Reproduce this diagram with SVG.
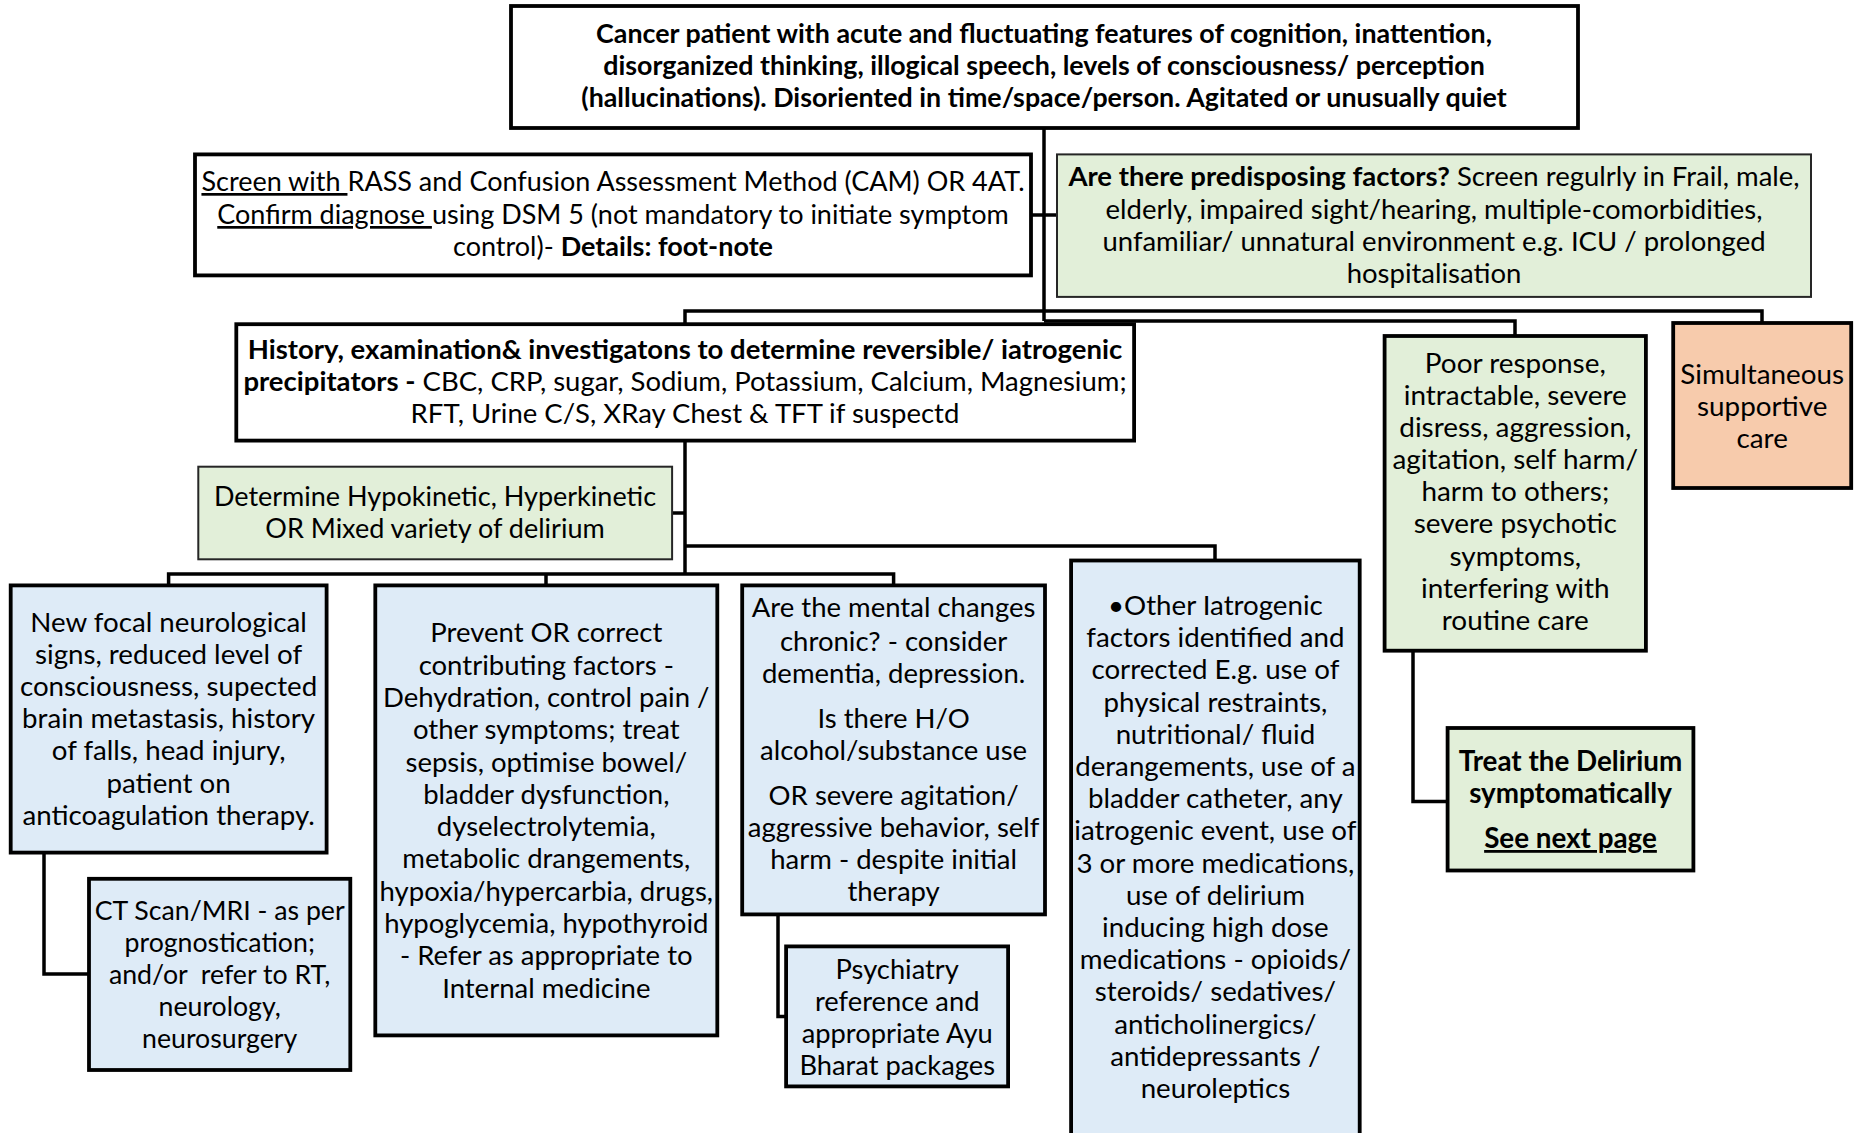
<svg xmlns="http://www.w3.org/2000/svg" width="1862" height="1133" viewBox="0 0 1862 1133">
<style>
.t{font-family:Lato,'Open Sans',sans-serif;fill:#000;text-anchor:middle}
.b{font-weight:bold}
.u{text-decoration:underline}
.box{stroke:#000;stroke-width:3.8}
.thin{stroke:#262626;stroke-width:2}
.w{fill:#fff}.bl{fill:#DEEBF7}.gr{fill:#E2EFD9}.or{fill:#F7CBAC}
.c{fill:none;stroke:#000;stroke-width:3.5}
</style>
<rect width="1862" height="1133" fill="#fff"/>
<g id="connectors">
<path class="c" d="M1044 128V321"/>
<path class="c" d="M1031 215H1057"/>
<path class="c" d="M685 324V311H1762V323"/>
<path class="c" d="M1044 321H1515V336"/>
<path class="c" d="M685 441V574"/>
<path class="c" d="M672 513H685"/>
<path class="c" d="M685 546H1215V560"/>
<path class="c" d="M168.6 585V574H893.6V585"/>
<path class="c" d="M546 574V585"/>
<path class="c" d="M44 853V974H89"/>
<path class="c" d="M778 914V1016.5H786"/>
<path class="c" d="M1413 651V801.6H1448"/>
</g>
<g id="n_top">
<rect class="box w" x="511" y="6" width="1067" height="122"/>
<text class="t b" font-size="26.8"><tspan x="1044" y="43">Cancer patient with acute and fluctuating features of cognition, inattention,</tspan><tspan x="1044" y="75">disorganized thinking, illogical speech, levels of consciousness/ perception</tspan><tspan x="1044" y="107">(hallucinations). Disoriented in time/space/person. Agitated or unusually quiet</tspan></text>
</g>
<g id="n_screen">
<rect class="box w" x="195" y="154.4" width="836" height="121"/>
<text class="t" font-size="27"><tspan x="613" y="191"><tspan class="u">Screen with </tspan>RASS and Confusion Assessment Method (CAM) OR 4AT.</tspan><tspan x="613" y="224"><tspan class="u">Confirm diagnose </tspan>using DSM 5 (not mandatory to initiate symptom</tspan><tspan x="613" y="256">control)- <tspan class="b">Details: foot-note</tspan></tspan></text>
</g>
<g id="n_predisposing">
<rect class="thin gr" x="1057" y="154.4" width="754" height="142.5"/>
<text class="t" font-size="27.5"><tspan x="1434" y="186"><tspan class="b">Are there predisposing factors?</tspan> Screen regulrly in Frail, male,</tspan><tspan x="1434" y="219">elderly, impaired sight/hearing, multiple-comorbidities,</tspan><tspan x="1434" y="251">unfamiliar/ unnatural environment e.g. ICU / prolonged</tspan><tspan x="1434" y="283">hospitalisation</tspan></text>
</g>
<g id="n_history">
<rect class="box w" x="236.3" y="324.2" width="897.8" height="116.4"/>
<text class="t" font-size="27.5"><tspan x="685" y="359" class="b">History, examination&amp; investigatons to determine reversible/ iatrogenic</tspan><tspan x="685" y="391"><tspan class="b">precipitators -</tspan> CBC, CRP, sugar, Sodium, Potassium, Calcium, Magnesium;</tspan><tspan x="685" y="423">RFT, Urine C/S, XRay Chest &amp; TFT if suspectd</tspan></text>
</g>
<g id="n_determine">
<rect class="thin gr" x="198.3" y="466.7" width="473.8" height="92.6"/>
<text class="t" font-size="27"><tspan x="435" y="506">Determine Hypokinetic, Hyperkinetic</tspan><tspan x="435" y="538">OR Mixed variety of delirium</tspan></text>
</g>
<g id="n_focal">
<rect class="box bl" x="10.7" y="585.4" width="315.9" height="267.2"/>
<text class="t" font-size="27.7"><tspan x="168.6" y="631.5">New focal neurological</tspan><tspan x="168.6" y="663.7">signs, reduced level of</tspan><tspan x="168.6" y="695.9">consciousness, supected</tspan><tspan x="168.6" y="728.1">brain metastasis, history</tspan><tspan x="168.6" y="760.3">of falls, head injury,</tspan><tspan x="168.6" y="792.5">patient on</tspan><tspan x="168.6" y="824.7">anticoagulation therapy.</tspan></text>
</g>
<g id="n_ct">
<rect class="box bl" x="89" y="878.8" width="261.3" height="191.2"/>
<text class="t" font-size="26.7"><tspan x="219.7" y="920">CT Scan/MRI - as per</tspan><tspan x="219.7" y="952">prognostication;</tspan><tspan x="219.7" y="984">and/or&#160; refer to RT,</tspan><tspan x="219.7" y="1016">neurology,</tspan><tspan x="219.7" y="1048">neurosurgery</tspan></text>
</g>
<g id="n_prevent">
<rect class="box bl" x="375.3" y="585.4" width="342" height="450"/>
<text class="t" font-size="27.5"><tspan x="546.3" y="642.3">Prevent OR correct</tspan><tspan x="546.3" y="674.6">contributing factors -</tspan><tspan x="546.3" y="706.9">Dehydration, control pain /</tspan><tspan x="546.3" y="739.2">other symptoms; treat</tspan><tspan x="546.3" y="771.5">sepsis, optimise bowel/</tspan><tspan x="546.3" y="803.8">bladder dysfunction,</tspan><tspan x="546.3" y="836.1">dyselectrolytemia,</tspan><tspan x="546.3" y="868.4">metabolic drangements,</tspan><tspan x="546.3" y="900.7">hypoxia/hypercarbia, drugs,</tspan><tspan x="546.3" y="933">hypoglycemia, hypothyroid</tspan><tspan x="546.3" y="965.3">- Refer as appropriate to</tspan><tspan x="546.3" y="997.6">Internal medicine</tspan></text>
</g>
<g id="n_mental">
<rect class="box bl" x="742.2" y="585.4" width="302.8" height="329"/>
<text class="t" font-size="27.5"><tspan x="893.6" y="617">Are the mental changes</tspan><tspan x="893.6" y="650.5">chronic? - consider</tspan><tspan x="893.6" y="682.5">dementia, depression.</tspan><tspan x="893.6" y="727.5">Is there H/O</tspan><tspan x="893.6" y="759.5">alcohol/substance use</tspan><tspan x="893.6" y="804.5">OR severe agitation/</tspan><tspan x="893.6" y="836.5">aggressive behavior, self</tspan><tspan x="893.6" y="869">harm - despite initial</tspan><tspan x="893.6" y="901">therapy</tspan></text>
</g>
<g id="n_psychiatry">
<rect class="box bl" x="786.1" y="946.4" width="222" height="140"/>
<text class="t" font-size="27.3"><tspan x="897.2" y="978.5">Psychiatry</tspan><tspan x="897.2" y="1010.5">reference and</tspan><tspan x="897.2" y="1042.5">appropriate Ayu</tspan><tspan x="897.2" y="1074.5">Bharat packages</tspan></text>
</g>
<g id="n_other">
<rect class="box bl" x="1071.1" y="560.5" width="288.6" height="590"/>
<text class="t" font-size="27.7"><tspan x="1215.4" y="615">•Other Iatrogenic</tspan><tspan x="1215.4" y="647.2">factors identified and</tspan><tspan x="1215.4" y="679.4">corrected E.g. use of</tspan><tspan x="1215.4" y="711.6">physical restraints,</tspan><tspan x="1215.4" y="743.8">nutritional/ fluid</tspan><tspan x="1215.4" y="776">derangements, use of a</tspan><tspan x="1215.4" y="808.2">bladder catheter, any</tspan><tspan x="1215.4" y="840.4">iatrogenic event, use of</tspan><tspan x="1215.4" y="872.6">3 or more medications,</tspan><tspan x="1215.4" y="904.8">use of delirium</tspan><tspan x="1215.4" y="937">inducing high dose</tspan><tspan x="1215.4" y="969.2">medications - opioids/</tspan><tspan x="1215.4" y="1001.4">steroids/ sedatives/</tspan><tspan x="1215.4" y="1033.6">anticholinergics/</tspan><tspan x="1215.4" y="1065.8">antidepressants /</tspan><tspan x="1215.4" y="1098">neuroleptics</tspan></text>
</g>
<g id="n_poor">
<rect class="box gr" x="1384.6" y="336" width="261.3" height="314.7"/>
<text class="t" font-size="27.9"><tspan x="1515.3" y="372.6">Poor response,</tspan><tspan x="1515.3" y="404.8">intractable, severe</tspan><tspan x="1515.3" y="436.9">disress, aggression,</tspan><tspan x="1515.3" y="469">agitation, self harm/</tspan><tspan x="1515.3" y="501.2">harm to others;</tspan><tspan x="1515.3" y="533.4">severe psychotic</tspan><tspan x="1515.3" y="565.5">symptoms,</tspan><tspan x="1515.3" y="597.7">interfering with</tspan><tspan x="1515.3" y="629.8">routine care</tspan></text>
</g>
<g id="n_simultaneous">
<rect class="box or" x="1673.2" y="323" width="178" height="165"/>
<text class="t" font-size="27.8"><tspan x="1762.2" y="384">Simultaneous</tspan><tspan x="1762.2" y="416">supportive</tspan><tspan x="1762.2" y="448">care</tspan></text>
</g>
<g id="n_treat">
<rect class="box gr" x="1447.6" y="728" width="245.8" height="142.5"/>
<text class="t b" font-size="27.8"><tspan x="1570.5" y="770.5">Treat the Delirium</tspan><tspan x="1570.5" y="802.5">symptomatically</tspan><tspan x="1570.5" y="848" class="u">See next page</tspan></text>
</g>
</svg>
